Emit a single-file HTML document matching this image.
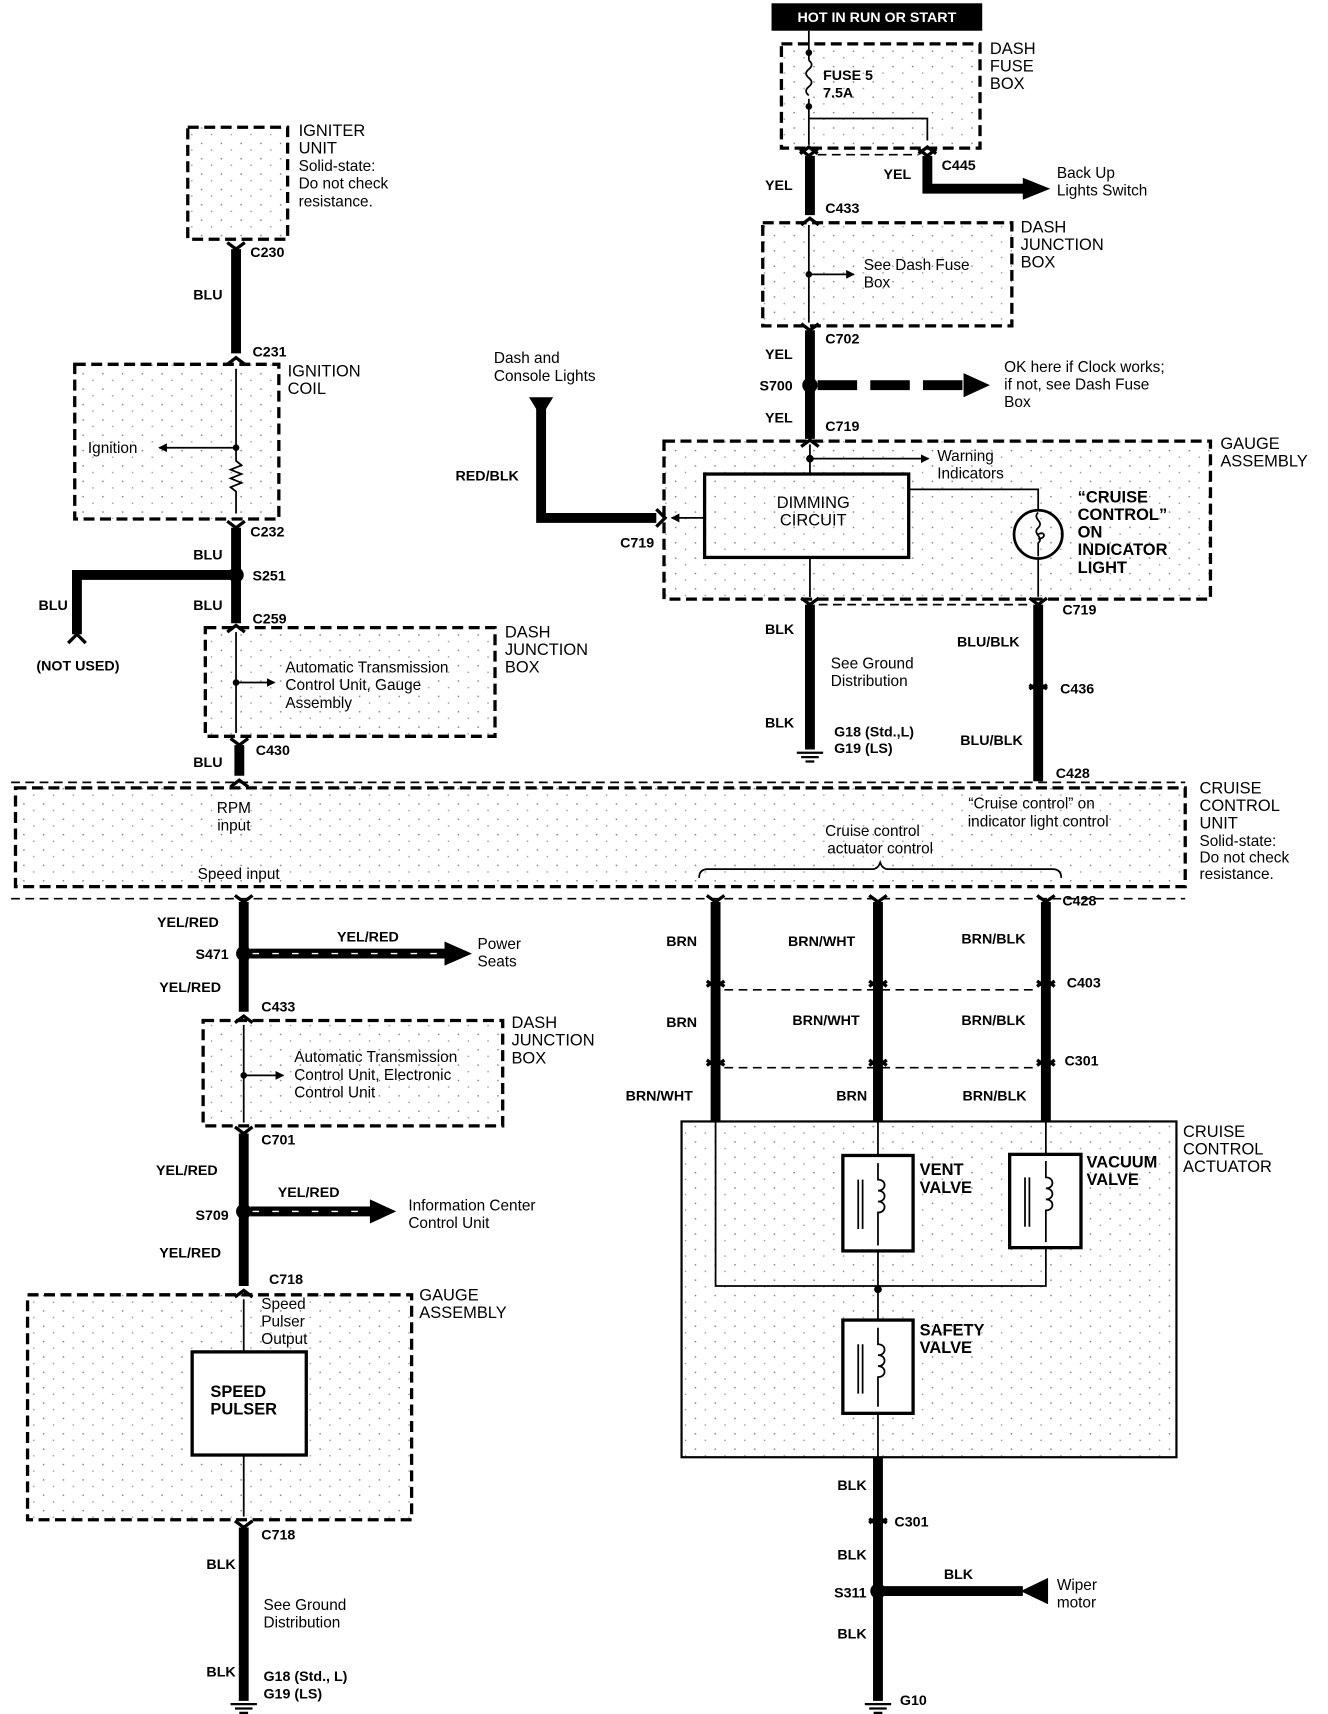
<!DOCTYPE html>
<html><head><meta charset="utf-8"><style>
html,body{margin:0;padding:0;background:#fff;}
svg{display:block;}
text{font-family:"Liberation Sans",Arial,sans-serif;font-size:14px;fill:#000;}
.b{font-weight:bold;font-size:13px;}
.L{font-size:15px;}
.w{stroke:#000;stroke-width:9;fill:none;}
.t{stroke:#000;stroke-width:1.6;fill:none;}
.d{stroke:#000;stroke-width:3;fill:url(#dots);stroke-dasharray:10,5;}
.d2{stroke:#000;stroke-width:1.5;fill:none;stroke-dasharray:8,5;}
</style></head><body>
<svg width="1328" height="1714" viewBox="0 0 1210 1562" xmlns="http://www.w3.org/2000/svg">
<defs>
<pattern id="dots" width="18" height="14" patternUnits="userSpaceOnUse">
<rect x="3" y="4" width="1.3" height="1.3" fill="#777"/><rect x="12" y="10" width="1.3" height="1.3" fill="#999"/>
</pattern>
<marker id="ar" markerWidth="8" markerHeight="8" refX="7" refY="4" orient="auto" markerUnits="userSpaceOnUse"><path d="M0,0 L8,4 L0,8z"/></marker>
<g id="cd"><path d="M-8,-6 L0,0 L8,-6" fill="none" stroke="#000" stroke-width="3"/></g>
<g id="cu"><path d="M-8,6 L0,0 L8,6" fill="none" stroke="#000" stroke-width="3"/></g>
<g id="gnd"><path d="M-12,0 H12 M-8,4 H8 M-4,8 H4" stroke="#000" stroke-width="2"/></g>
</defs>

<!-- HOT label -->
<rect x="703" y="3" width="192" height="25" fill="#000"/>
<text x="799" y="20" text-anchor="middle" style="fill:#fff;font-weight:bold;font-size:13px">HOT IN RUN OR START</text>

<!-- dash fuse box -->
<rect class="d" x="712" y="40" width="181" height="95"/>
<text class="L" x="902" y="49">DASH</text><text class="L" x="902" y="65">FUSE</text><text class="L" x="902" y="81">BOX</text>
<path class="t" d="M737,28 V55 M737,90 V132"/>
<path class="t" d="M737,55 q5,4 0,8 q-5,4 0,8 q5,4 0,8 q-5,4 0,8"/>
<circle cx="737" cy="48" r="3"/><circle cx="737" cy="97" r="3"/>
<text class="b" x="750" y="73">FUSE 5</text><text class="b" x="750" y="89">7.5A</text>
<path class="t" d="M737,108 H845 V128"/>
<use href="#cu" x="737" y="134"/><use href="#cu" x="845" y="134"/>
<use href="#cd" x="737" y="142"/><use href="#cd" x="845" y="142"/>
<path class="d2" d="M745,141 H837"/>
<path class="w" d="M738,142 V196"/>
<path class="w" d="M845,142 V172 H935"/><path d="M932,162 L957,172 L932,182z"/>
<text class="b" x="697" y="173">YEL</text><text class="b" x="805" y="163">YEL</text><text class="b" x="858" y="155">C445</text>
<text x="963" y="162">Back Up</text><text x="963" y="178">Lights Switch</text>
<text class="b" x="752" y="194">C433</text>
<use href="#cu" x="738" y="199"/>
<!-- dash junction box -->
<rect class="d" x="695" y="203" width="227" height="94"/>
<text class="L" x="930" y="212">DASH</text><text class="L" x="930" y="228">JUNCTION</text><text class="L" x="930" y="244">BOX</text>
<path class="t" d="M737,205 V294"/><circle cx="737" cy="250" r="3"/>
<path class="t" d="M737,250 H778" marker-end="url(#ar)"/>
<text x="787" y="246">See Dash Fuse</text><text x="787" y="262">Box</text>
<use href="#cd" x="738" y="301"/>
<path class="w" d="M738,301 V400"/>
<text class="b" x="752" y="313">C702</text><text class="b" x="697" y="327">YEL</text>
<circle cx="738" cy="351" r="7"/><text class="b" x="692" y="356">S700</text>
<path class="w" d="M745,351 H880" style="stroke-dasharray:36,12"/><path d="M878,340 L902,351 L878,362z"/>
<text x="915" y="339">OK here if Clock works;</text><text x="915" y="355">if not, see Dash Fuse</text><text x="915" y="371">Box</text>
<text class="b" x="697" y="385">YEL</text><text class="b" x="752" y="393">C719</text>
<use href="#cu" x="738" y="401"/>

<!-- gauge assembly upper -->
<rect class="d" x="605" y="402" width="498" height="144"/>
<text class="L" x="1112" y="409">GAUGE</text><text class="L" x="1112" y="425">ASSEMBLY</text>
<path class="t" d="M738,405 V432"/><circle cx="738" cy="418" r="3.5"/>
<path class="t" d="M738,418 H846" marker-end="url(#ar)"/>
<text x="854" y="420">Warning</text><text x="854" y="436">Indicators</text>
<rect x="642" y="432" width="186" height="76" fill="none" stroke="#000" stroke-width="3"/>
<text class="L" x="741" y="463" text-anchor="middle">DIMMING</text><text class="L" x="741" y="479" text-anchor="middle">CIRCUIT</text>
<path class="t" d="M828,446 H946 V465 M946,509 V544"/>
<circle cx="946" cy="487" r="22" fill="none" stroke="#000" stroke-width="2.5"/>
<path class="t" d="M946,467 c-6,6 6,8 0,14 c-6,6 6,8 0,14 V507 M946,487 c6,-4 8,4 0,4"/>
<text class="L b" x="982" y="458">“CRUISE</text><text class="L b" x="982" y="474">CONTROL”</text><text class="L b" x="982" y="490">ON</text><text class="L b" x="982" y="506">INDICATOR</text><text class="L b" x="982" y="522">LIGHT</text>
<path class="t" d="M642,472 H612" marker-end="url(#ar)"/>
<path class="t" d="M738,508 V544"/>
<path d="M598,464 L606,472 L598,480" fill="none" stroke="#000" stroke-width="3"/>
<path class="w" d="M598,472 H493 V370"/><path d="M482,362 L504,362 L493,380z"/>
<text class="b" x="415" y="438">RED/BLK</text><text class="b" x="565" y="499">C719</text>
<text x="450" y="331">Dash and</text><text x="450" y="347">Console Lights</text>
<use href="#cd" x="738" y="551"/><use href="#cd" x="946" y="551"/>
<path class="d2" d="M746,551 H938"/>
<path class="w" d="M738,551 V683"/>
<use href="#gnd" x="738" y="686"/>
<text class="b" x="697" y="578">BLK</text><text x="757" y="609">See Ground</text><text x="757" y="625">Distribution</text>
<text class="b" x="697" y="663">BLK</text><text class="b" x="760" y="671">G18 (Std.,L)</text><text class="b" x="760" y="686">G19 (LS)</text>
<path class="w" d="M946,551 V712"/>
<use href="#cu" x="946" y="622"/><use href="#cd" x="946" y="630"/>
<text class="b" x="968" y="560">C719</text><text class="b" x="872" y="589">BLU/BLK</text>
<text class="b" x="966" y="632">C436</text><text class="b" x="875" y="679">BLU/BLK</text><text class="b" x="962" y="709">C428</text>

<!-- cruise control unit -->
<path class="d2" d="M10,713 H1080 M10,819 H1080"/>
<rect class="d" x="14" y="718" width="1066" height="90"/>
<text class="L" x="1093" y="723">CRUISE</text><text class="L" x="1093" y="739">CONTROL</text><text class="L" x="1093" y="755">UNIT</text>
<text x="1093" y="771">Solid-state:</text><text x="1093" y="786">Do not check</text><text x="1093" y="801">resistance.</text>
<text x="213" y="741" text-anchor="middle">RPM</text><text x="213" y="757" text-anchor="middle">input</text>
<text x="180" y="801">Speed input</text>
<text x="940" y="737" text-anchor="middle">“Cruise control” on</text><text x="946" y="753" text-anchor="middle">indicator light control</text>
<text x="795" y="762" text-anchor="middle">Cruise control</text><text x="802" y="778" text-anchor="middle">actuator control</text>
<path class="t" d="M637,800 q0,-8 8,-8 H795 q5,0 7,-6 q2,6 7,6 H959 q8,0 8,8"/>

<!-- igniter -->
<rect class="d" x="171" y="116" width="91" height="102"/>
<text class="L" x="272" y="124">IGNITER</text><text class="L" x="272" y="140">UNIT</text>
<text x="272" y="156">Solid-state:</text><text x="272" y="172">Do not check</text><text x="272" y="188">resistance.</text>
<use href="#cd" x="215" y="227"/>
<path class="w" d="M215,227 V322"/>
<use href="#cu" x="215" y="326"/>
<text class="b" x="228" y="234">C230</text><text class="b" x="176" y="273">BLU</text><text class="b" x="230" y="325">C231</text>
<rect class="d" x="68" y="332" width="186" height="141"/>
<text class="L" x="262" y="343">IGNITION</text><text class="L" x="262" y="359">COIL</text>
<path class="t" d="M215,336 V420 l5,4 l-10,4 l10,4 l-10,4 l10,4 l-10,4 l5,4 V468"/>
<circle cx="215" cy="408" r="3"/>
<path class="t" d="M215,408 H145" marker-end="url(#ar)"/>
<text x="80" y="413">Ignition</text>
<use href="#cd" x="215" y="481"/>
<path class="w" d="M215,481 V568"/>
<text class="b" x="228" y="489">C232</text><text class="b" x="176" y="510">BLU</text>
<circle cx="215" cy="524" r="7"/><text class="b" x="230" y="529">S251</text>
<path class="w" d="M215,524 H70 V578"/>
<path d="M62,586 L70,578 L78,586" fill="none" stroke="#000" stroke-width="3"/>
<text class="b" x="35" y="556">BLU</text><text class="b" x="33" y="611">(NOT USED)</text>
<text class="b" x="176" y="556">BLU</text><text class="b" x="230" y="568">C259</text>
<use href="#cu" x="215" y="570"/>
<rect class="d" x="187" y="572" width="264" height="99"/>
<text class="L" x="460" y="581">DASH</text><text class="L" x="460" y="597">JUNCTION</text><text class="L" x="460" y="613">BOX</text>
<path class="t" d="M215,576 V668"/><circle cx="215" cy="622" r="3"/>
<path class="t" d="M215,622 H250" marker-end="url(#ar)"/>
<text x="260" y="613">Automatic Transmission</text><text x="260" y="629">Control Unit, Gauge</text><text x="260" y="645">Assembly</text>
<use href="#cd" x="218" y="679"/>
<path class="w" d="M218,679 V707"/><use href="#cu" x="218" y="711"/>
<text class="b" x="176" y="699">BLU</text><text class="b" x="233" y="688">C430</text>

<!-- left lower -->
<use href="#cd" x="222" y="822"/>
<path class="w" d="M222,822 V922"/>
<text class="b" x="143" y="845">YEL/RED</text>
<circle cx="222" cy="869" r="7"/><text class="b" x="178" y="874">S471</text>
<path class="w" d="M228,869 H410" style="stroke:#000"/><path d="M230,869 H405" stroke="#fff" stroke-width="1.2" stroke-dasharray="6,12"/>
<path d="M405,858 L430,869 L405,880z"/>
<text class="b" x="307" y="858">YEL/RED</text><text x="435" y="865">Power</text><text x="435" y="881">Seats</text>
<text class="b" x="145" y="904">YEL/RED</text><text class="b" x="238" y="922">C433</text>
<use href="#cu" x="222" y="926"/>
<rect class="d" x="185" y="930" width="273" height="96"/>
<text class="L" x="466" y="937">DASH</text><text class="L" x="466" y="953">JUNCTION</text><text class="L" x="466" y="969">BOX</text>
<path class="t" d="M222,934 V1023"/><circle cx="222" cy="980" r="3"/>
<path class="t" d="M222,980 H258" marker-end="url(#ar)"/>
<text x="268" y="968">Automatic Transmission</text><text x="268" y="984">Control Unit, Electronic</text><text x="268" y="1000">Control Unit</text>
<use href="#cd" x="222" y="1033"/>
<path class="w" d="M222,1033 V1172"/>
<text class="b" x="238" y="1043">C701</text><text class="b" x="142" y="1071">YEL/RED</text>
<circle cx="222" cy="1104" r="7"/><text class="b" x="178" y="1112">S709</text>
<path class="w" d="M228,1104 H340"/><path d="M230,1104 H335" stroke="#fff" stroke-width="1.2" stroke-dasharray="6,12"/>
<path d="M337,1093 L361,1104 L337,1115z"/>
<text class="b" x="253" y="1091">YEL/RED</text><text x="372" y="1103">Information Center</text><text x="372" y="1119">Control Unit</text>
<text class="b" x="145" y="1146">YEL/RED</text><text class="b" x="245" y="1170">C718</text>
<use href="#cu" x="222" y="1176"/>
<rect class="d" x="25" y="1180" width="350" height="205"/>
<text class="L" x="382" y="1185">GAUGE</text><text class="L" x="382" y="1201">ASSEMBLY</text>
<path class="t" d="M222,1184 V1232 M222,1326 V1382"/>
<text x="238" y="1193">Speed</text><text x="238" y="1209">Pulser</text><text x="238" y="1225">Output</text>
<rect x="175" y="1232" width="104" height="94" fill="#fff" stroke="#000" stroke-width="3"/>
<text class="L b" x="217" y="1273" text-anchor="middle">SPEED</text><text class="L b" x="222" y="1289" text-anchor="middle">PULSER</text>
<use href="#cd" x="222" y="1392"/>
<path class="w" d="M222,1392 V1550"/><use href="#gnd" x="222" y="1553"/>
<text class="b" x="238" y="1403">C718</text><text class="b" x="188" y="1430">BLK</text>
<text x="240" y="1467">See Ground</text><text x="240" y="1483">Distribution</text>
<text class="b" x="188" y="1528">BLK</text><text class="b" x="240" y="1532">G18 (Std., L)</text><text class="b" x="240" y="1548">G19 (LS)</text>

<!-- right lower wires -->
<g>
<path class="w" d="M652,822 V1022 M800,822 V1022 M953,822 V1022"/>
<use href="#cd" x="652" y="822"/><use href="#cd" x="800" y="822"/><use href="#cd" x="953" y="822"/>
<use href="#cu" x="652" y="893"/><use href="#cu" x="800" y="893"/><use href="#cu" x="953" y="893"/>
<use href="#cd" x="652" y="900"/><use href="#cd" x="800" y="900"/><use href="#cd" x="953" y="900"/>
<use href="#cu" x="652" y="965"/><use href="#cu" x="800" y="965"/><use href="#cu" x="953" y="965"/>
<use href="#cd" x="652" y="972"/><use href="#cd" x="800" y="972"/><use href="#cd" x="953" y="972"/>
<path class="d2" d="M660,902 H945 M660,973 H945"/>
</g>
<text class="b" x="968" y="825">C428</text><text class="b" x="972" y="900">C403</text><text class="b" x="970" y="971">C301</text>
<text class="b" x="607" y="862">BRN</text><text class="b" x="718" y="862">BRN/WHT</text><text class="b" x="876" y="860">BRN/BLK</text>
<text class="b" x="607" y="936">BRN</text><text class="b" x="722" y="934">BRN/WHT</text><text class="b" x="876" y="934">BRN/BLK</text>
<text class="b" x="570" y="1003">BRN/WHT</text><text class="b" x="762" y="1003">BRN</text><text class="b" x="877" y="1003">BRN/BLK</text>
<rect x="621" y="1022" width="451" height="306" fill="url(#dots)" stroke="#000" stroke-width="2"/>
<text class="L" x="1078" y="1036">CRUISE</text><text class="L" x="1078" y="1052">CONTROL</text><text class="L" x="1078" y="1068">ACTUATOR</text>
<path class="t" d="M652,1022 V1172 H953 V1022 M800,1022 V1053 M800,1140 V1203 M800,1288 V1328 M953,1052 V1022"/>
<circle cx="800" cy="1175" r="3.5"/>
<g fill="#fff" stroke="#000" stroke-width="3">
<rect x="768" y="1053" width="64" height="87"/><rect x="920" y="1052" width="65" height="85"/><rect x="768" y="1203" width="64" height="85"/>
</g>
<g class="t">
<path d="M782,1075 V1120 M786,1075 V1120 M800,1060 V1075 c8,0 8,10 0,10 c8,0 8,10 0,10 c8,0 8,10 0,10 V1135"/>
<path d="M934,1073 V1118 M938,1073 V1118 M953,1058 V1073 c8,0 8,10 0,10 c8,0 8,10 0,10 c8,0 8,10 0,10 V1132"/>
<path d="M782,1225 V1270 M786,1225 V1270 M800,1210 V1225 c8,0 8,10 0,10 c8,0 8,10 0,10 c8,0 8,10 0,10 V1282"/>
</g>
<text class="L b" x="838" y="1071">VENT</text><text class="L b" x="838" y="1087">VALVE</text>
<text class="L b" x="990" y="1064">VACUUM</text><text class="L b" x="990" y="1080">VALVE</text>
<text class="L b" x="838" y="1217">SAFETY</text><text class="L b" x="838" y="1233">VALVE</text>
<path class="w" d="M800,1328 V1550"/>
<use href="#cu" x="800" y="1382"/><use href="#cd" x="800" y="1390"/>
<use href="#gnd" x="800" y="1553"/>
<text class="b" x="763" y="1358">BLK</text><text class="b" x="815" y="1391">C301</text><text class="b" x="763" y="1421">BLK</text>
<circle cx="800" cy="1450" r="7"/><text class="b" x="760" y="1456">S311</text>
<path class="w" d="M800,1450 H932"/><path d="M955,1438 L930,1450 L955,1462z"/>
<text class="b" x="860" y="1439">BLK</text><text x="963" y="1449">Wiper</text><text x="963" y="1465">motor</text>
<text class="b" x="763" y="1493">BLK</text><text class="b" x="820" y="1554">G10</text>
</svg>
</body></html>
